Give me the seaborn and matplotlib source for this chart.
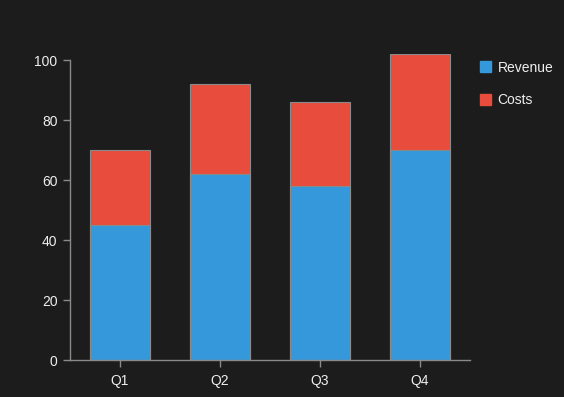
import matplotlib
matplotlib.use("Agg")
import matplotlib.pyplot as plt
import seaborn as sns
import pandas as pd
from matplotlib.patches import Patch

quarters = ["Q1", "Q2", "Q3", "Q4"]
revenue = [45, 62, 58, 70]
costs = [25, 30, 28, 32]
yticks = [0, 20, 40, 60, 80, 100]

bg = "#1c1c1c"
blue = "#3498db"
red = "#e74c3c"
grey = "#8a8a8a"
txt = "#eeeeee"

sns.set_style("dark")
plt.rcParams["font.family"] = ["Liberation Sans", "DejaVu Sans"]

df = pd.DataFrame({"quarter": quarters, "revenue": revenue, "costs": costs})
df["total"] = df["revenue"] + df["costs"]

fig = plt.figure(figsize=(5.64, 3.97), dpi=100, facecolor=bg)
ax = fig.add_axes([70/564, 37/397, 400/564, 306/397])
ax.set_facecolor(bg)

sns.barplot(data=df, x="quarter", y="total", color=red, width=0.6,
            edgecolor=grey, linewidth=0.8, saturation=1, ax=ax)
sns.barplot(data=df, x="quarter", y="revenue", color=blue, width=0.6,
            edgecolor=grey, linewidth=0.8, saturation=1, ax=ax)

ax.set_xlim(-0.5, 3.5)
ax.set_ylim(0, 102)
ax.set_yticks(yticks)
ax.set_xlabel("")
ax.set_ylabel("")
ax.grid(False)
for s in ["top", "right"]:
    ax.spines[s].set_visible(False)
for s in ["left", "bottom"]:
    ax.spines[s].set_visible(True)
    ax.spines[s].set_color(grey)
    ax.spines[s].set_linewidth(1)
ax.spines["left"].set_bounds(0, 100)
ax.tick_params(axis="both", colors=grey, labelcolor=txt, labelsize=10,
               length=5, width=1, direction="out", left=True, bottom=True)
ax.tick_params(axis="y", pad=4)
ax.tick_params(axis="x", pad=5)

handles = [Patch(facecolor=blue, edgecolor=blue, label="Revenue"),
           Patch(facecolor=red, edgecolor=red, label="Costs")]
fig.legend(handles=handles, loc="upper left", bbox_to_anchor=(467/564, 1 - 48/397),
           frameon=False, labelcolor=txt, fontsize=10, handlelength=0.86,
           handleheight=0.86, handletextpad=0.43, labelspacing=1.36)

fig.savefig("out.png", dpi=100, facecolor=bg)
